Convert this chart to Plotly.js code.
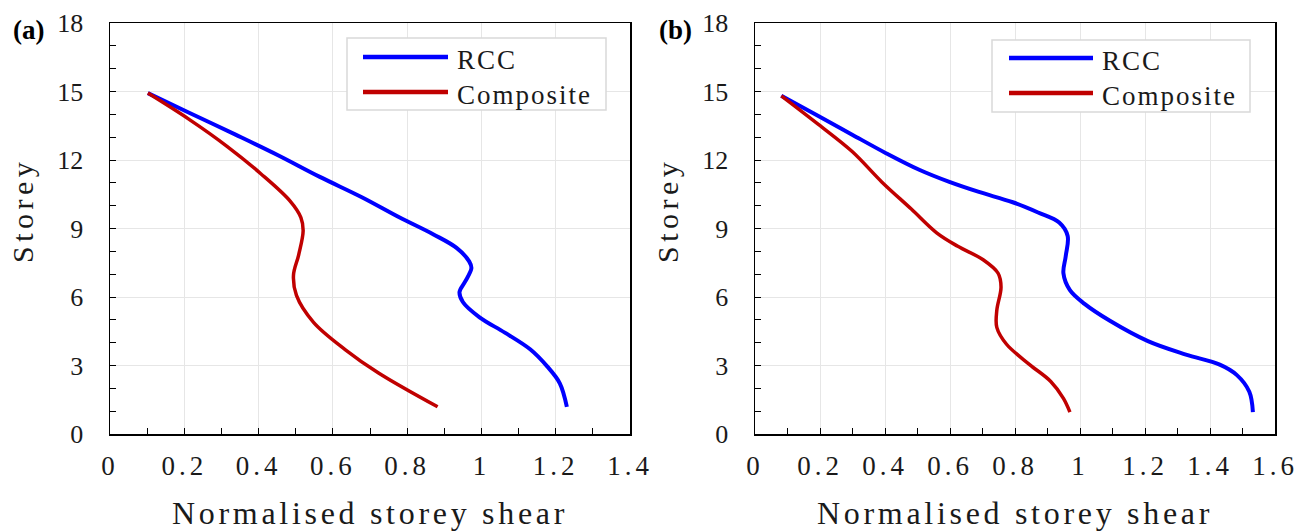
<!DOCTYPE html>
<html>
<head>
<meta charset="utf-8">
<script src="https://cdn.plot.ly/plotly-3.0.1.min.js"></script>
<style>
html,body{margin:0;padding:0;background:#fff;}
#chart{width:1311px;height:531px;}
g.xtick text, g.x2tick text{letter-spacing:4px;}
</style>
</head>
<body>
<div id="chart"></div>
<script>
// Panel (a)
const aRccX = [0.102, 0.213, 0.338, 0.451, 0.565, 0.678, 0.780, 0.871, 0.933, 0.967, 0.973, 0.956, 0.941, 0.950, 0.995, 1.063, 1.132, 1.177, 1.211, 1.230];
const aRccY = [14.93, 14.07, 13.11, 12.22, 11.26, 10.37, 9.48, 8.74, 8.15, 7.56, 7.26, 6.67, 6.22, 5.78, 5.11, 4.44, 3.70, 2.96, 2.22, 1.19];
const aCompX = [0.102, 0.213, 0.315, 0.406, 0.485, 0.514, 0.520, 0.508, 0.494, 0.502, 0.548, 0.633, 0.723, 0.882];
const aCompY = [14.93, 13.78, 12.60, 11.40, 10.20, 9.48, 8.90, 7.85, 6.96, 6.07, 4.89, 3.70, 2.67, 1.19];
// Panel (b)
const bRccX = [0.081, 0.195, 0.299, 0.403, 0.507, 0.598, 0.689, 0.793, 0.871, 0.936, 0.962, 0.956, 0.949, 0.969, 1.014, 1.092, 1.209, 1.326, 1.430, 1.482, 1.521, 1.532];
const bRccY = [14.81, 13.93, 13.11, 12.30, 11.56, 11.04, 10.60, 10.15, 9.70, 9.26, 8.67, 7.78, 7.04, 6.30, 5.70, 4.96, 4.07, 3.48, 3.04, 2.59, 1.85, 0.96];
const bCompX = [0.081, 0.195, 0.299, 0.390, 0.481, 0.559, 0.624, 0.702, 0.748, 0.757, 0.744, 0.744, 0.774, 0.845, 0.910, 0.949, 0.969];
const bCompY = [14.81, 13.56, 12.37, 11.04, 9.85, 8.81, 8.22, 7.63, 7.04, 6.44, 5.41, 4.67, 3.93, 3.04, 2.30, 1.56, 0.96];

const seriesNames = ["RCC", "Composite"];
const xTicksA = [0, 0.2, 0.4, 0.6, 0.8, 1, 1.2, 1.4];
const xTicksB = [0, 0.2, 0.4, 0.6, 0.8, 1, 1.2, 1.4, 1.6];
const yTicks = [0, 3, 6, 9, 12, 15, 18];
const xTitle = "Normalised storey shear";
const yTitle = "Storey";
const panelLabels = ["(a)", "(b)"];

const BLUE = "#0000ff", RED = "#c00000";
const SERIF = "Liberation Serif, Times New Roman, serif";
const INK = "#1a1a1a";

const W = 1311, H = 531, MB = 90;
const PH = H - MB;
const px = v => v / W;
const py = v => (PH - v) / PH;
const spaced = (t, s) => `<span style="letter-spacing:${s}px">${t}</span>`;

const traces = [
  {x: aRccX, y: aRccY, name: seriesNames[0], mode: "lines", line: {color: BLUE, width: 4, shape: "spline"}, xaxis: "x", yaxis: "y", showlegend: false},
  {x: aCompX, y: aCompY, name: seriesNames[1], mode: "lines", line: {color: RED, width: 3.5, shape: "spline"}, xaxis: "x", yaxis: "y", showlegend: false},
  {x: bRccX, y: bRccY, name: seriesNames[0], mode: "lines", line: {color: BLUE, width: 4, shape: "spline"}, xaxis: "x2", yaxis: "y2", showlegend: false},
  {x: bCompX, y: bCompY, name: seriesNames[1], mode: "lines", line: {color: RED, width: 3.5, shape: "spline"}, xaxis: "x2", yaxis: "y2", showlegend: false}
];

function xAxis(domain, range, ticks, anchor) {
  return {
    domain: domain, range: range, anchor: anchor,
    tickvals: ticks, ticktext: ticks.map(String),
    ticks: "inside", ticklen: 6, tickwidth: 1, tickcolor: "#000",
    minor: {dtick: 0.1, tick0: 0, ticks: "inside", ticklen: 6, tickwidth: 1, tickcolor: "#000", showgrid: false},
    showgrid: true, gridcolor: "#e6e6e6", gridwidth: 1,
    showline: true, linecolor: "#000", linewidth: 1.5, mirror: true,
    zeroline: false,
    tickfont: {family: SERIF, size: 27, color: INK},
    ticklabelstandoff: 7,
    title: {text: spaced(xTitle, 3.7), font: {family: SERIF, size: 32, color: INK}, standoff: 22}
  };
}
function yAxis(domain, anchor) {
  return {
    domain: domain, range: [0, 18], anchor: anchor,
    tickvals: yTicks, ticktext: yTicks.map(String),
    ticks: "inside", ticklen: 6, tickwidth: 1, tickcolor: "#000",
    minor: {dtick: 1, tick0: 0, ticks: "inside", ticklen: 6, tickwidth: 1, tickcolor: "#000", showgrid: false},
    showgrid: true, gridcolor: "#e6e6e6", gridwidth: 1,
    showline: true, linecolor: "#000", linewidth: 1.5, mirror: true,
    zeroline: false,
    tickfont: {family: SERIF, size: 26, color: INK},
    ticklabelstandoff: 20
  };
}

// legend boxes drawn as shapes + annotations (pixel specs)
const legends = [
  {box: [347, 606, 38, 110], line: [363, 448], rows: [57, 92], text: 455},
  {box: [992, 1250, 40, 112], line: [1009, 1093], rows: [58, 93], text: 1100}
];
const rowColors = [BLUE, RED];
const shapes = [];
const annotations = [];
legends.forEach(L => {
  shapes.push({type: "rect", xref: "paper", yref: "paper", x0: px(L.box[0]), x1: px(L.box[1]), y0: py(L.box[2]), y1: py(L.box[3]),
    line: {color: "#d9d9d9", width: 1.5}, fillcolor: "#fff", layer: "above"});
  L.rows.forEach((r, i) => {
    shapes.push({type: "line", xref: "paper", yref: "paper", x0: px(L.line[0]), x1: px(L.line[1]), y0: py(r), y1: py(r),
      line: {color: rowColors[i], width: 4.5}, layer: "above"});
    annotations.push({text: spaced(seriesNames[i], 2), xref: "paper", yref: "paper", x: px(L.text), y: py(r + 3),
      xanchor: "left", yanchor: "middle", showarrow: false, font: {family: SERIF, size: 27, color: INK}});
  });
});
// y titles (positioned like the reference, slightly above axis centre)
[22, 667].forEach(x => annotations.push({text: spaced(yTitle, 4.5), xref: "paper", yref: "paper", x: px(x), y: py(211),
  xanchor: "center", yanchor: "middle", textangle: -90, showarrow: false, font: {family: SERIF, size: 30, color: INK}}));
// panel labels
[[11, 0], [657, 1]].forEach(([x, i]) => annotations.push({text: `<b>${panelLabels[i]}</b>`, xref: "paper", yref: "paper",
  x: px(x), y: py(30), xanchor: "left", yanchor: "middle", showarrow: false, font: {family: SERIF, size: 27, color: "#000"}}));

const yDom = [py(434), py(23)];
const layout = {
  width: W, height: H,
  margin: {l: 0, r: 0, t: 0, b: MB},
  paper_bgcolor: "#fff", plot_bgcolor: "#fff",
  showlegend: false,
  xaxis: xAxis([px(110), px(630)], [0, 1.4], xTicksA, "y"),
  yaxis: yAxis(yDom, "x"),
  xaxis2: xAxis([px(755), px(1275)], [0, 1.6], xTicksB, "y2"),
  yaxis2: yAxis(yDom, "x2"),
  shapes: shapes,
  annotations: annotations
};

Plotly.newPlot("chart", traces, layout, {displayModeBar: false, staticPlot: true});
</script>
</body>
</html>
